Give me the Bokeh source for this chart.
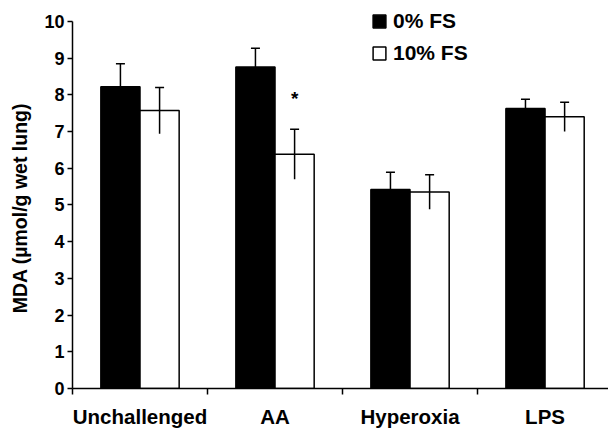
from bokeh.plotting import figure
from bokeh.models import (ColumnDataSource, FixedTicker, Whisker, TeeHead, Legend, LegendItem, Range1d)
from bokeh.core.properties import value
from bokeh.embed import file_html
from bokeh.resources import INLINE

categories = ["Unchallenged", "AA", "Hyperoxia", "LPS"]
fs0_mean = [8.22, 8.76, 5.42, 7.63]
fs0_err = [0.63, 0.51, 0.47, 0.25]
fs10_mean = [7.57, 6.38, 5.35, 7.40]
fs10_err = [0.63, 0.68, 0.47, 0.40]
fs10_sig = ["", "*", "", ""]
y_ticks = list(range(0, 11))
series_labels = ["0% FS", "10% FS"]
y_title = "MDA (µmol/g wet lung)"

FONT = "Liberation Sans"
bar_w = 0.29
off = 0.145

idx = list(range(len(categories)))
src0 = ColumnDataSource(dict(
    x=[i + 0.5 - off for i in idx], top=fs0_mean,
    upper=[m + e for m, e in zip(fs0_mean, fs0_err)],
    lower=[m - e for m, e in zip(fs0_mean, fs0_err)]))
src1 = ColumnDataSource(dict(
    x=[i + 0.5 + off for i in idx], top=fs10_mean,
    upper=[m + e for m, e in zip(fs10_mean, fs10_err)],
    lower=[m - e for m, e in zip(fs10_mean, fs10_err)],
    sig=fs10_sig,
    sig_y=[m + e + 0.85 for m, e in zip(fs10_mean, fs10_err)]))

p = figure(width=608, height=430, output_backend="svg", toolbar_location=None,
           x_range=Range1d(0, 3.97), y_range=Range1d(0, 10.57),
           min_border_left=72, min_border_right=0, min_border_top=0, min_border_bottom=40)
p.outline_line_color = None
p.xgrid.visible = False
p.ygrid.visible = False
p.background_fill_color = "white"

r0 = p.vbar(x="x", top="top", width=bar_w, bottom=0, source=src0,
            fill_color="black", line_color="black", line_width=1.5)
r1 = p.vbar(x="x", top="top", width=bar_w, bottom=0, source=src1,
            fill_color="white", line_color="black", line_width=1.5)

for s in (src0, src1):
    w = Whisker(base="x", upper="upper", lower="lower", source=s, dimension="height",
                line_color="black", line_width=1.5, level="overlay",
                upper_head=TeeHead(size=9, line_width=1.5, line_color="black"),
                lower_head=None)
    p.add_layout(w)

p.text(x="x", y="sig_y", text="sig", source=src1, text_font=value(FONT),
       text_font_style="bold", text_font_size="19px", text_align="center",
       text_baseline="middle", text_color="black")

# axes
p.yaxis.ticker = FixedTicker(ticks=y_ticks)
p.yaxis.bounds = (0, 10)
p.yaxis.minor_tick_line_color = None
p.yaxis.major_tick_out = 5
p.yaxis.major_tick_in = 0
p.yaxis.major_tick_line_width = 1.5
p.yaxis.axis_line_width = 1.5
p.yaxis.axis_line_color = "black"
p.yaxis.major_tick_line_color = "black"
p.yaxis.major_label_text_font = FONT
p.yaxis.major_label_text_font_style = "bold"
p.yaxis.major_label_text_font_size = "18px"
p.yaxis.major_label_text_color = "black"
p.yaxis.major_label_standoff = 3
# trailing no-break spaces lower the centred title to match the reference
p.yaxis.axis_label = y_title + "\u00a0" * 5
p.yaxis.axis_label_text_font = FONT
p.yaxis.axis_label_text_font_style = "bold"
p.yaxis.axis_label_text_font_size = "19.5px"
p.yaxis.axis_label_text_color = "black"
p.yaxis.axis_label_standoff = 10

p.xaxis.ticker = FixedTicker(ticks=[i + 0.5 for i in idx], minor_ticks=list(range(len(categories) + 1)))
p.xaxis.major_label_overrides = {i + 0.5: c for i, c in zip(idx, categories)}
p.xaxis.major_tick_line_color = None
p.xaxis.minor_tick_out = 6
p.xaxis.minor_tick_in = 0
p.xaxis.minor_tick_line_width = 1.5
p.xaxis.minor_tick_line_color = "black"
p.xaxis.axis_line_width = 1.5
p.xaxis.axis_line_color = "black"
p.xaxis.major_label_text_font = FONT
p.xaxis.major_label_text_font_style = "bold"
p.xaxis.major_label_text_font_size = "20.5px"
p.xaxis.major_label_text_color = "black"
p.xaxis.major_label_standoff = 10

legend = Legend(items=[LegendItem(label=series_labels[0], renderers=[r0]),
                       LegendItem(label=series_labels[1], renderers=[r1])],
                location=(299, 323), orientation="vertical",
                glyph_width=16, glyph_height=16, label_standoff=6, spacing=8,
                padding=0, margin=0, border_line_color=None, background_fill_alpha=0,
                label_text_font=FONT, label_text_font_style="bold",
                label_text_font_size="21px", label_text_color="black")
p.add_layout(legend)

open("out.html", "w").write(file_html(p, INLINE))
